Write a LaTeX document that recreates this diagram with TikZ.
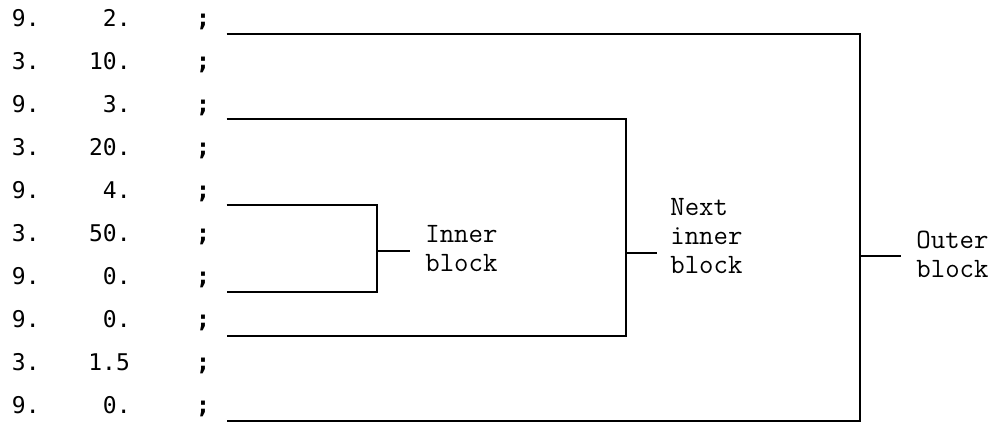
\documentclass[tikz,border=0pt]{standalone}
\usepackage{fontspec}
\newfontfamily\numfont{DejaVu Sans Mono}
\usetikzlibrary{positioning}

\begin{document}
\begin{tikzpicture}[x=0.5pt,y=-0.5pt,
num/.style={font=\numfont\fontsize{11.5}{14}\selectfont,inner sep=0pt,anchor=base east},
semi/.style={font=\numfont\bfseries\fontsize{12}{14}\selectfont,inner sep=0pt,anchor=base},
lbl/.style={font=\ttfamily\fontsize{14}{14.5}\selectfont,align=left,inner sep=0pt,anchor=west},
brk/.style={line width=1.2pt}]
\useasboundingbox (0,0) rectangle (1001,434);
% data cards
\node[num] (c1) at (40,26) {9.};
\node[num] (v1) at (131,26) {2.};
\node[semi] (s1) at (203,26) {;};
\node[num] (c2) at (40,69) {3.};
\node[num] (v2) at (131,69) {10.};
\node[semi] (s2) at (203,69) {;};
\node[num] (c3) at (40,112) {9.};
\node[num] (v3) at (131,112) {3.};
\node[semi] (s3) at (203,112) {;};
\node[num] (c4) at (40,155) {3.};
\node[num] (v4) at (131,155) {20.};
\node[semi] (s4) at (203,155) {;};
\node[num] (c5) at (40,198) {9.};
\node[num] (v5) at (131,198) {4.};
\node[semi] (s5) at (203,198) {;};
\node[num] (c6) at (40,241) {3.};
\node[num] (v6) at (131,241) {50.};
\node[semi] (s6) at (203,241) {;};
\node[num] (c7) at (40,284) {9.};
\node[num] (v7) at (131,284) {0.};
\node[semi] (s7) at (203,284) {;};
\node[num] (c8) at (40,327) {9.};
\node[num] (v8) at (131,327) {0.};
\node[semi] (s8) at (203,327) {;};
\node[num] (c9) at (40,370) {3.};
\node[num,anchor=base west] (v9) at (88,370) {1.5};
\node[semi] (s9) at (203,370) {;};
\node[num] (c10) at (40,413) {9.};
\node[num] (v10) at (131,413) {0.};
\node[semi] (s10) at (203,413) {;};
% block labels
\node[lbl] (innlbl) at (425,249) {Inner\\block};
\node[lbl] (nxtlbl) at (670,236) {Next\\inner\\block};
\node[lbl] (outlbl) at (916,254) {Outer\\block};
% bracket corners
\coordinate (inntop) at (377,205);
\coordinate (innbot) at (377,292);
\coordinate (innmid) at (377,251);
\coordinate (nxttop) at (626,119);
\coordinate (nxtbot) at (626,336);
\coordinate (nxtmid) at (626,253);
\coordinate (outtop) at (860,34);
\coordinate (outbot) at (860,421);
\coordinate (outmid) at (860,256);
\draw[brk] ([xshift=8pt]s5.east |- inntop) -- (inntop) -- (innbot) -- ([xshift=8pt]s7.east |- innbot);
\draw[brk] ([xshift=8pt]s3.east |- nxttop) -- (nxttop) -- (nxtbot) -- ([xshift=8pt]s8.east |- nxtbot);
\draw[brk] ([xshift=8pt]s1.east |- outtop) -- (outtop) -- (outbot) -- ([xshift=8pt]s10.east |- outbot);
\draw[brk,shorten >=7.5pt] (innmid) -- (innmid -| innlbl.west);
\draw[brk,shorten >=6.5pt] (nxtmid) -- (nxtmid -| nxtlbl.west);
\draw[brk,shorten >=7.5pt] (outmid) -- (outmid -| outlbl.west);
\end{tikzpicture}
\end{document}
